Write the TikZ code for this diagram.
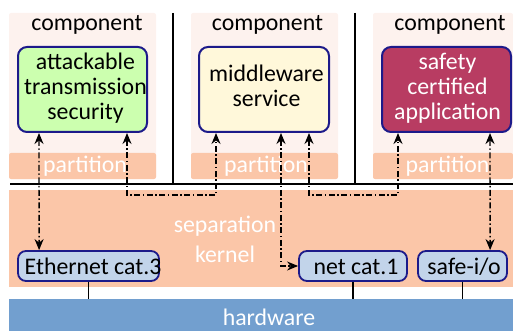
\documentclass[tikz,border=0pt]{standalone}
\usepackage{fontspec}
\setmainfont{Carlito}
\usetikzlibrary{arrows.meta}

\definecolor{compbg}{HTML}{FDF2EE}
\definecolor{peach}{HTML}{FBC6A8}
\definecolor{navy}{HTML}{1C1A8A}
\definecolor{greenfill}{HTML}{CCFFAF}
\definecolor{creamfill}{HTML}{FFF8DA}
\definecolor{crimson}{HTML}{B83C62}
\definecolor{portblue}{HTML}{C2D4EA}
\definecolor{hwblue}{HTML}{729FCF}

\begin{document}
\begin{tikzpicture}[x=1pt, y=-1pt,
  lbl/.style={font=\fontsize{23.8}{25}\selectfont, inner sep=0pt, align=center, anchor=base},
  wlbl/.style={lbl, text=white},
  bigbox/.style={draw=navy, line width=2pt, rounded corners=9pt, inner sep=0pt,
                 minimum height=85pt},
  portbox/.style={draw=navy, line width=1.8pt, rounded corners=8pt, fill=portblue,
                  inner sep=0pt, minimum height=30pt},
  bar/.style={fill=peach, draw=none, rounded corners=2pt, inner sep=0pt, minimum height=26pt},
  link/.style={line width=1.4pt, dash pattern=on 6pt off 2.5pt on 1.5pt off 2.5pt,
               {Stealth[length=11pt,width=9pt]}-{Stealth[length=11pt,width=9pt]}},
  wire/.style={line width=1.8pt},
  rule/.style={line width=2pt}
]
\useasboundingbox (0,0) rectangle (513,331);

% component backgrounds
\fill[compbg, rounded corners=2pt] (9,13) rectangle (156,179);
\fill[compbg, rounded corners=2pt] (191,13) rectangle (338,179);
\fill[compbg, rounded corners=2pt] (373,13) rectangle (513,179);

% partition bars
\node[bar, minimum width=147pt] (part1) at (82.5,166) {};
\node[bar, minimum width=147pt] (part2) at (264.5,166) {};
\node[bar, minimum width=140pt] (part3) at (443,166) {};

% separation kernel and hardware layers
\node[fill=peach, inner sep=0pt, minimum width=504pt, minimum height=97pt] (kern) at (261,238.5) {};
\node[fill=hwblue, inner sep=0pt, minimum width=504pt, minimum height=32pt] (hw) at (261,315) {};

% dividers
\draw[rule] (10,184) -- (513,184);
\draw[rule] (173,13) -- (173,184);
\draw[rule] (355,13) -- (355,184);

% component headings
\node[lbl] (c1) at (87,31) {component};
\node[lbl] (c2) at (267.5,31) {component};
\node[lbl] (c3) at (450,31) {component};

% application boxes (multi-line labels sit on the baseline of their last line)
\node[bigbox, fill=greenfill, minimum width=129pt] (app1) at (82.5,89.5) {};
\node[bigbox, fill=creamfill, minimum width=130pt] (app2) at (264,89.5) {};
\node[bigbox, fill=crimson, minimum width=129pt] (app3) at (446.5,89.5) {};
\node[lbl] (t1) at (85.5,120) {attackable\\transmission\\security};
\node[lbl] (t2) at (266.5,107) {middleware\\service};
\node[wlbl] (t3) at (447.5,120) {safety\\certified\\application};

% partition labels
\node[wlbl] (p1) at (85,172) {partition};
\node[wlbl] (p2) at (266,172) {partition};
\node[wlbl] (p3) at (447.5,172) {partition};

% kernel and hardware labels
\node[wlbl, font=\fontsize{23.8}{30}\selectfont] (sk) at (225,262) {separation\\kernel};
\node[wlbl] (hwl) at (269,325) {hardware};

% i/o ports
\node[portbox, minimum width=141pt] (eth) at (88.5,266) {};
\node[portbox, minimum width=108pt] (net) at (353,266) {};
\node[portbox, minimum width=89pt] (safe) at (462.5,266) {};
\node[lbl] (ethl) at (93,274) {Ethernet cat.3};
\node[lbl] (netl) at (356,274) {net cat.1};
\node[lbl] (safel) at (464,274) {safe-i/o};

% port wiring to hardware
\draw[wire] (eth.south) -- (eth.south |- hw.north);
\draw[wire] (net.south) -- (net.south |- hw.north);
\draw[wire] (safe.south) -- (safe.south |- hw.north);

% communication channels
\draw[link] ([xshift=22pt]app1.south west) -- ([xshift=22pt]eth.north west);
\draw[link] ([xshift=110pt]app1.south west) -- ++(0,62) -| ([xshift=18pt]app2.south west);
\draw[link] ([xshift=83pt]app2.south west) |- (net.west);
\draw[link] ([xshift=111pt]app2.south west) -- ++(0,62) -| ([xshift=17pt]app3.south west);
\draw[link] ([xshift=109pt]app3.south west) -- ([xshift=73pt]safe.north west);
\end{tikzpicture}
\end{document}
